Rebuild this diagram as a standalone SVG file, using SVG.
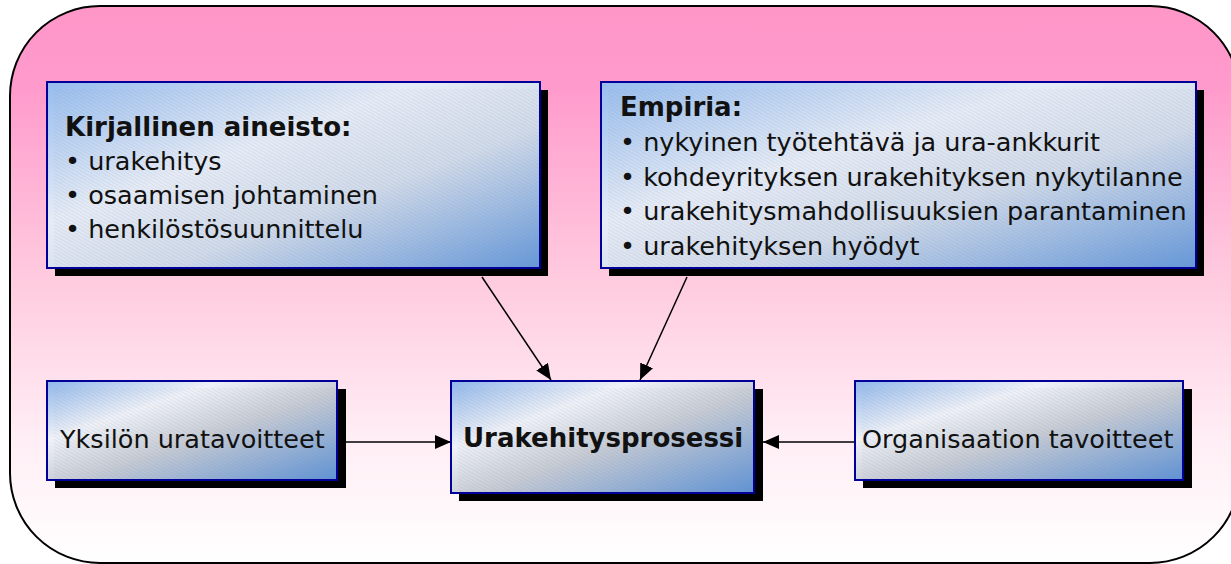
<svg xmlns="http://www.w3.org/2000/svg" width="1231" height="564" viewBox="0 0 1231 564">
  <style>
    .shadow { fill: #000000; }
    .box { stroke: #000099; stroke-width: 2; }
    .tex { fill: url(#hatch); }
    .txt { font-family: "DejaVu Sans", Verdana, sans-serif; font-size: 25.5px; fill: #111111; }
    .bold { font-weight: bold; font-size: 26px; }
    .conn { stroke: #000000; stroke-width: 1.5; fill: none; marker-end: url(#arrow); }
  </style>
  <defs>
    <linearGradient id="bg" x1="0" y1="0" x2="0" y2="1">
      <stop offset="0" stop-color="#FF96C8"/>
      <stop offset="0.14" stop-color="#FF9ACC"/>
      <stop offset="0.5" stop-color="#FFCCDF"/>
      <stop offset="0.78" stop-color="#FFEEF5"/>
      <stop offset="1" stop-color="#FFFFFF"/>
    </linearGradient>
    <linearGradient id="boxfill" x1="0" y1="0" x2="1" y2="1">
      <stop offset="0" stop-color="#96BCEE"/>
      <stop offset="0.38" stop-color="#E6ECF7"/>
      <stop offset="0.62" stop-color="#D0DAEA"/>
      <stop offset="1" stop-color="#6598DA"/>
    </linearGradient>
    <linearGradient id="boxfill2" x1="0" y1="0" x2="1" y2="1">
      <stop offset="0" stop-color="#8FB6EA"/>
      <stop offset="0.3" stop-color="#EEF1F8"/>
      <stop offset="0.55" stop-color="#C6CBD5"/>
      <stop offset="1" stop-color="#5F93D6"/>
    </linearGradient>
    <pattern id="hatch" width="3" height="3" patternUnits="userSpaceOnUse" patternTransform="rotate(-60)">
      <line x1="0" y1="0" x2="0" y2="3" stroke="#7A7A7A" stroke-width="1" stroke-opacity="0.2"/>
    </pattern>
    <marker id="arrow" viewBox="0 0 16 14" refX="16" refY="7" markerWidth="16" markerHeight="14" markerUnits="userSpaceOnUse" orient="auto">
      <path d="M0,0 L16,7 L0,14 z" fill="#000000"/>
    </marker>
  </defs>

  <!-- background panel -->
  <rect x="10" y="6" width="1230" height="557" rx="90" ry="90" fill="url(#bg)" stroke="#000000" stroke-width="2"/>

  <!-- connectors -->
  <g id="connectors">
    <line class="conn" x1="482" y1="277" x2="551" y2="380"/>
    <line class="conn" x1="687" y1="277" x2="640" y2="380"/>
    <line class="conn" x1="346" y1="442" x2="451" y2="442"/>
    <line class="conn" x1="855" y1="442" x2="763" y2="442"/>
  </g>

  <!-- literature box -->
  <g id="kirjallinen">
    <rect class="shadow" x="55" y="90" width="493" height="186"/>
    <rect class="box" x="47" y="82" width="493" height="186" fill="url(#boxfill)"/>
    <rect class="tex" x="54" y="89" width="485" height="178"/>
    <text class="txt bold" x="65" y="136">Kirjallinen aineisto:</text>
    <text class="txt" x="65" y="170">• urakehitys</text>
    <text class="txt" x="65" y="204">• osaamisen johtaminen</text>
    <text class="txt" x="65" y="238">• henkilöstösuunnittelu</text>
  </g>

  <!-- empirical box -->
  <g id="empiria">
    <rect class="shadow" x="609" y="90" width="595" height="186"/>
    <rect class="box" x="601" y="82" width="595" height="186" fill="url(#boxfill)"/>
    <rect class="tex" x="608" y="89" width="587" height="178"/>
    <text class="txt bold" x="620" y="116">Empiria:</text>
    <text class="txt" x="620" y="151">• nykyinen työtehtävä ja ura-ankkurit</text>
    <text class="txt" x="620" y="186">• kohdeyrityksen urakehityksen nykytilanne</text>
    <text class="txt" x="620" y="220">• urakehitysmahdollisuuksien parantaminen</text>
    <text class="txt" x="620" y="255">• urakehityksen hyödyt</text>
  </g>

  <!-- individual goals -->
  <g id="yksilo">
    <rect class="shadow" x="55" y="389" width="291" height="99"/>
    <rect class="box" x="47" y="381" width="290" height="99" fill="url(#boxfill2)"/>
    <rect class="tex" x="54" y="388" width="282" height="91"/>
    <text class="txt" x="60" y="448">Yksilön uratavoitteet</text>
  </g>

  <!-- process -->
  <g id="prosessi">
    <rect class="shadow" x="459" y="389" width="304" height="112"/>
    <rect class="box" x="451" y="381" width="303" height="112" fill="url(#boxfill2)"/>
    <rect class="tex" x="458" y="388" width="295" height="104"/>
    <text class="txt bold" x="463" y="447">Urakehitysprosessi</text>
  </g>

  <!-- organisation goals -->
  <g id="organisaatio">
    <rect class="shadow" x="863" y="389" width="329" height="99"/>
    <rect class="box" x="855" y="381" width="328" height="99" fill="url(#boxfill2)"/>
    <rect class="tex" x="862" y="388" width="320" height="91"/>
    <text class="txt" x="862" y="448">Organisaation tavoitteet</text>
  </g>
</svg>
